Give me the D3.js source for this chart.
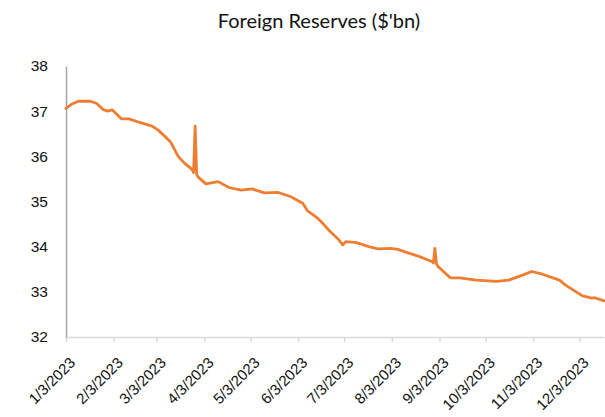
<!DOCTYPE html>
<html>
<head>
<meta charset="utf-8">
<script src="https://cdn.jsdelivr.net/npm/d3@7"></script>
<style>
  body { margin: 0; background: #fff; }
  svg { font-family: Lato, "Liberation Sans", sans-serif; }
</style>
</head>
<body>
<svg id="canvas" width="605" height="417"></svg>
<script>
// dates and reserves
const dates = [
  "2023-01-03","2023-01-07","2023-01-11","2023-01-19","2023-01-23","2023-01-27","2023-01-30",
  "2023-02-02","2023-02-08","2023-02-13","2023-02-20","2023-02-28",
  "2023-03-04","2023-03-09","2023-03-12","2023-03-17","2023-03-21","2023-03-26","2023-03-27",
  "2023-03-28","2023-03-29","2023-03-30",
  "2023-04-04","2023-04-12","2023-04-19","2023-04-27",
  "2023-05-04","2023-05-12","2023-05-21","2023-05-29",
  "2023-06-06","2023-06-09","2023-06-15","2023-06-18","2023-06-24","2023-06-29",
  "2023-07-02","2023-07-04","2023-07-11","2023-07-19","2023-07-25",
  "2023-08-02","2023-08-07","2023-08-12","2023-08-21","2023-08-29","2023-08-30","2023-08-31",
  "2023-09-01","2023-09-02","2023-09-10","2023-09-16","2023-09-27",
  "2023-10-10","2023-10-18","2023-10-27",
  "2023-11-02","2023-11-09","2023-11-20","2023-11-24",
  "2023-12-05","2023-12-11","2023-12-13","2023-12-19"
];
const reserves = [
  37.06,37.16,37.22,37.22,37.17,37.04,37.00,
  37.03,36.83,36.83,36.75,36.67,
  36.58,36.42,36.32,36.00,35.85,35.71,35.64,
  36.67,35.60,35.54,
  35.39,35.44,35.31,35.25,
  35.28,35.19,35.20,35.11,
  34.96,34.80,34.65,34.55,34.33,34.17,
  34.04,34.11,34.09,34.00,33.95,
  33.96,33.94,33.88,33.78,33.67,33.64,33.96,
  33.62,33.56,33.31,33.31,33.26,
  33.23,33.26,33.37,
  33.45,33.39,33.26,33.15,
  32.91,32.86,32.87,32.80
];
const tickDates = ["2023-01-03","2023-02-03","2023-03-03","2023-04-03","2023-05-03","2023-06-03",
  "2023-07-03","2023-08-03","2023-09-03","2023-10-03","2023-11-03","2023-12-03"];
const yTicks = [32, 33, 34, 35, 36, 37, 38];

const parse = d3.timeParse("%Y-%m-%d");
const data = dates.map((d, i) => ({ date: parse(d), value: reserves[i] }));

const svg = d3.select("#canvas");
const plotLeft = 66, plotRight = 604, plotTop = 66, plotBottom = 337;

const x = d3.scaleTime()
  .domain(d3.extent(data, d => d.date))
  .range([plotLeft, plotRight]);
const y = d3.scaleLinear()
  .domain([32, 38])
  .range([plotBottom, plotTop]);

svg.append("text")
  .attr("x", 319)
  .attr("y", 28)
  .attr("text-anchor", "middle")
  .attr("font-size", 20)
  .attr("fill", "#111")
  .text("Foreign Reserves ($'bn)");

// x axis
const xAxis = svg.append("g")
  .attr("transform", `translate(0,${plotBottom})`)
  .call(d3.axisBottom(x)
    .tickValues(tickDates.map(parse))
    .tickSize(5)
    .tickSizeOuter(0)
    .tickFormat(d3.timeFormat("%-m/%-d/%Y")));
xAxis.select(".domain").attr("stroke", "#d9d9d9").attr("stroke-width", 1.5);
xAxis.selectAll(".tick line").attr("stroke", "#d9d9d9").attr("stroke-width", 1.5);
xAxis.selectAll(".tick text")
  .attr("font-size", 15)
  .attr("fill", "#111")
  .attr("text-anchor", "end")
  .attr("x", 0)
  .attr("y", 0)
  .attr("dy", "0.35em")
  .attr("transform", "translate(6,23) rotate(-45)");

// y axis
const yAxis = svg.append("g")
  .attr("transform", `translate(${plotLeft},0)`)
  .call(d3.axisLeft(y).tickValues(yTicks).tickSize(0).tickPadding(18).tickFormat(d3.format("d")));
yAxis.select(".domain").attr("stroke", "#a6a6a6").attr("stroke-width", 1.5);
yAxis.selectAll(".tick text").attr("font-size", 15.5).attr("fill", "#111");

svg.append("path")
  .datum(data)
  .attr("fill", "none")
  .attr("stroke", "#ed7d31")
  .attr("stroke-width", 2.8)
  .attr("stroke-linejoin", "round")
  .attr("stroke-linecap", "round")
  .attr("d", d3.line().x(d => x(d.date)).y(d => y(d.value)));
</script>
</body>
</html>
